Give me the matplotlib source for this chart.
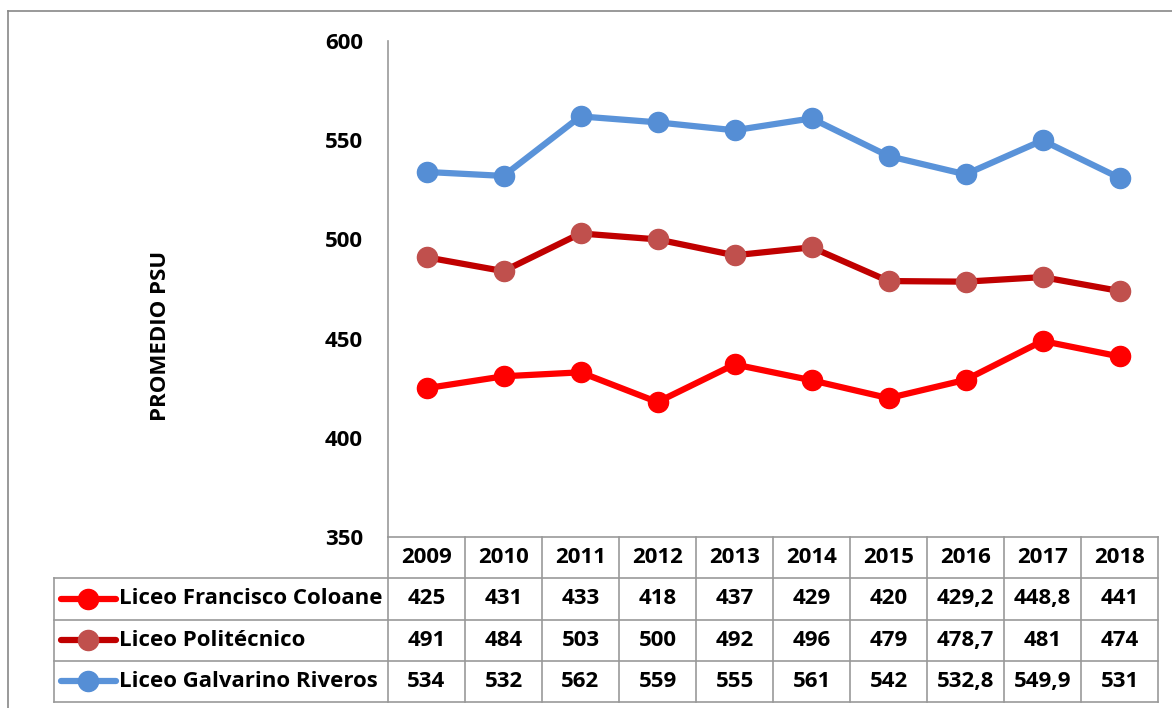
import numpy as np
import matplotlib.pyplot as plt
from matplotlib.lines import Line2D

years = ["2009", "2010", "2011", "2012", "2013", "2014", "2015", "2016", "2017", "2018"]
coloane = [425, 431, 433, 418, 437, 429, 420, 429.2, 448.8, 441]
politecnico = [491, 484, 503, 500, 492, 496, 479, 478.7, 481, 474]
galvarino = [534, 532, 562, 559, 555, 561, 542, 532.8, 549.9, 531]
names = ["Liceo Francisco Coloane", "Liceo Politécnico", "Liceo Galvarino Riveros"]
line_colors = ["#FF0000", "#C00000", "#5A93D9"]
marker_colors = ["#FF0000", "#C0504D", "#558ED5"]
series = [coloane, politecnico, galvarino]

plt.rcParams['font.family'] = ['Open Sans', 'DejaVu Sans']
plt.rcParams['font.weight'] = 'bold'
FS = 16

W, H = 1172, 708
fig = plt.figure(figsize=(W / 100, H / 100), dpi=100)

def fx(px):
	return px / W

def fy(py):
	return (H - py) / H

# outer chart border
fig.add_artist(Line2D([fx(8), fx(W + 5)], [fy(11), fy(11)], color="#888888", lw=1.2))
fig.add_artist(Line2D([fx(8), fx(8)], [fy(11), fy(H + 5)], color="#888888", lw=1.2))

left, right, top, bottom = 388, 1158, 41, 537
ax = fig.add_axes([fx(left), fy(bottom), fx(right) - fx(left), fy(top) - fy(bottom)])
x = np.arange(len(years))
for vals, lc, mc in zip(series, line_colors, marker_colors):
	ax.plot(x, vals, color=lc, lw=4.5, marker="o", ms=14.5, mfc=mc, mec=mc, solid_capstyle="round", clip_on=False)
ax.set_xlim(-0.5, len(years) - 0.5)
ax.set_ylim(350, 600)
ax.set_yticks([350, 400, 450, 500, 550, 600])
ax.set_xticks([])
for s in ["top", "right", "bottom"]:
	ax.spines[s].set_visible(False)
ax.spines["left"].set_color("#999999")
ax.spines["left"].set_linewidth(1.2)
ax.tick_params(axis="y", length=0, pad=18, labelsize=FS)
for t in ax.get_yticklabels():
	t.set_fontweight("bold")
fig.text(fx(160), fy(336), "PROMEDIO PSU", rotation=90, ha="center", va="center", fontsize=16, fontweight="bold")

# data table below the chart
tb_top, tb_bot = 537, 702
tax = fig.add_axes([fx(left), fy(tb_bot), fx(right) - fx(left), fy(tb_top) - fy(tb_bot)])
tax.set_xlim(-0.5, len(years) - 0.5)
tax.set_ylim(4, 0)
tax.axis("off")
col_w = (right - left) / len(years)

def px2x(px):
	return -0.5 + (px - left) / col_w

lab_left = px2x(54)
gc = "#999999"
glw = 1.2
# horizontal lines
tax.plot([-0.5, len(years) - 0.5], [0, 0], color=gc, lw=glw, clip_on=False)
for r in range(1, 5):
	tax.plot([lab_left, len(years) - 0.5], [r, r], color=gc, lw=glw, clip_on=False)
# vertical lines
tax.plot([lab_left, lab_left], [1, 4], color=gc, lw=glw, clip_on=False)
for c in range(len(years) + 1):
	tax.plot([c - 0.5, c - 0.5], [0, 4], color=gc, lw=glw, clip_on=False)

for i, yr in enumerate(years):
	tax.text(i, 0.5, yr, ha="center", va="center", fontsize=FS, fontweight="bold")

def fmt(v):
	if float(v).is_integer():
		return str(int(v))
	return ("%.1f" % v).replace(".", ",")

for r, (nm, vals, lc, mc) in enumerate(zip(names, series, line_colors, marker_colors)):
	yy = r + 1.5
	tax.plot([px2x(61), px2x(116)], [yy, yy], color=lc, lw=4.5, solid_capstyle="round", clip_on=False)
	tax.plot([px2x(88)], [yy], marker="o", ms=14.5, mfc=mc, mec=mc, clip_on=False)
	tax.text(px2x(119), yy, nm, ha="left", va="center", fontsize=FS, fontweight="bold")
	for i, v in enumerate(vals):
		tax.text(i, yy, fmt(v), ha="center", va="center", fontsize=FS, fontweight="bold")

fig.savefig("out.png", dpi=100)
